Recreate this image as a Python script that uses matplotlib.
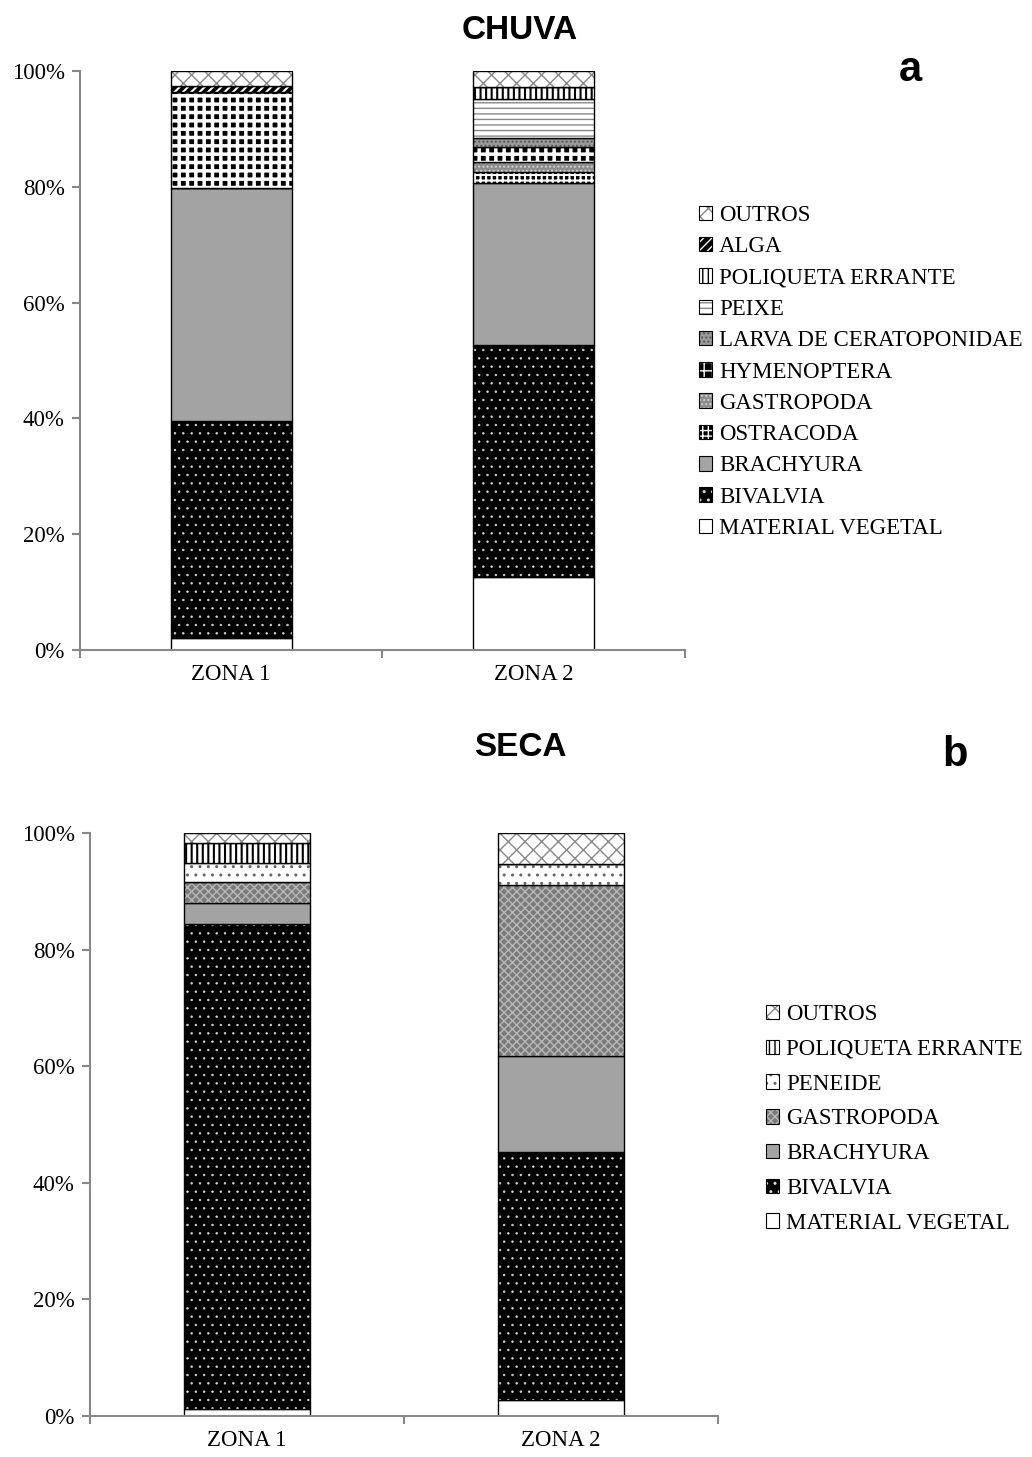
#!/usr/bin/env python3
"""Stacked percentage bars of diet items by zone, rainy (CHUVA) and dry (SECA) season."""

import matplotlib
matplotlib.use("Agg")
import numpy as np
import matplotlib.pyplot as plt
from matplotlib.patches import Patch
from matplotlib.legend_handler import HandlerTuple

plt.rcParams['hatch.linewidth'] = 1.0

zones = ['ZONA 1', 'ZONA 2']

# CHUVA (bottom to top of the stack)
chuva_items = ['MATERIAL VEGETAL', 'BIVALVIA', 'BRACHYURA', 'OSTRACODA', 'GASTROPODA',
               'HYMENOPTERA', 'LARVA DE CERATOPONIDAE', 'PEIXE', 'POLIQUETA ERRANTE',
               'ALGA', 'OUTROS']
chuva_zona1 = [2.0, 37.5, 40.3, 0.0, 0.0, 16.6, 0.0, 0.0, 0.0, 1.0, 2.6]
chuva_zona2 = [12.6, 40.1, 28.0, 1.9, 1.7, 2.6, 1.5, 6.8, 2.0, 0.0, 2.8]

# SECA (bottom to top of the stack)
seca_items = ['MATERIAL VEGETAL', 'BIVALVIA', 'BRACHYURA', 'GASTROPODA', 'PENEIDE',
              'POLIQUETA ERRANTE', 'OUTROS']
seca_zona1 = [1.2, 83.2, 3.6, 3.6, 3.3, 3.4, 1.7]
seca_zona2 = [2.7, 42.6, 16.4, 29.4, 3.6, 0.0, 5.3]

# fill style per item: (face colour, hatch, hatch colour, hatch width)
styles = {
    'MATERIAL VEGETAL': ('white', '', 'black', 1.0),
    'BIVALVIA': ('black', '..', '#d8d8d8', 0.5),
    'BRACHYURA': ('#a3a3a3', '', 'black', 1.0),
    'OSTRACODA': ('black', '+++', 'white', 1.5),
    'GASTROPODA': ('#8c8c8c', '....', '#d0d0d0', 1.0),
    'HYMENOPTERA': ('black', '++', 'white', 2.5),
    'LARVA DE CERATOPONIDAE': ('#9a9a9a', '....', '#5a5a5a', 1.0),
    'PEIXE': ('white', '---', '#888888', 1.0),
    'POLIQUETA ERRANTE': ('white', '|||', 'black', 1.5),
    'ALGA': ('black', '////', 'white', 1.5),
    'OUTROS': ('white', 'xx', '#888888', 1.0),
    'PENEIDE': ('white', '..', '#666666', 1.0),
}
seca_styles = dict(styles)
seca_styles['GASTROPODA'] = ('#7a7a7a', 'xxxx', '#b8b8b8', 1.0)

serif = 'Liberation Serif'
sans = 'Liberation Sans'


def stacked(ax, items, zona1, zona2, sty):
    x = np.arange(len(zones))
    data = np.array([zona1, zona2]).T
    bottom = np.zeros(len(zones))
    handles = []
    for item, vals in zip(items, data):
        face, hatch, hcol, hlw = sty[item]
        with plt.rc_context({'hatch.linewidth': hlw}):
            ax.bar(x, vals, 0.4, bottom=bottom, color=face, hatch=hatch,
                   edgecolor=hcol, linewidth=0)
            hp = Patch(facecolor=face, hatch=hatch, edgecolor=hcol, linewidth=0)
        ax.bar(x, vals, 0.4, bottom=bottom, fill=False, edgecolor='black',
               linewidth=1.0)
        bottom += vals
        handles.append((hp, Patch(fill=False, edgecolor='black', linewidth=0.8)))
    ax.set_xlim(-0.5, 1.5)
    ax.set_ylim(0, 100)
    ax.set_yticks(np.arange(0, 101, 20))
    ax.set_yticklabels([f'{v}%' for v in range(0, 101, 20)], fontfamily=serif, fontsize=16.5)
    ax.set_xticks(x)
    ax.set_xticklabels(zones, fontfamily=serif, fontsize=16.5)
    ax.set_xticks([-0.5, 0.5, 1.5], minor=True)
    ax.tick_params(axis='x', which='major', length=0, pad=10)
    ax.tick_params(axis='x', which='minor', length=6, color='#888888', width=1.5)
    ax.tick_params(axis='y', length=6, color='#888888', width=1.5, pad=5)
    for s in ['top', 'right']:
        ax.spines[s].set_visible(False)
    for s in ['left', 'bottom']:
        ax.spines[s].set_color('#888888')
        ax.spines[s].set_linewidth(1.5)
    return handles[::-1], items[::-1]


fig = plt.figure(figsize=(10.32, 14.57), dpi=100)

ax1 = fig.add_axes([0.0775, 0.5539, 0.586, 0.3974])
h, l = stacked(ax1, chuva_items, chuva_zona1, chuva_zona2, styles)
fig.legend(h, l, loc='center left', bbox_to_anchor=(678 / 1032, 1 - 372 / 1457),
           frameon=False, prop={'family': serif, 'size': 16.5}, handlelength=0.6,
           handleheight=0.6, handletextpad=0.3, labelspacing=0.45,
           handler_map={tuple: HandlerTuple(ndivide=1)})

ax2 = fig.add_axes([0.0872, 0.0281, 0.6085, 0.4001])
h, l = stacked(ax2, seca_items, seca_zona1, seca_zona2, seca_styles)
fig.legend(h, l, loc='center left', bbox_to_anchor=(745 / 1032, 1 - 1119 / 1457),
           frameon=False, prop={'family': serif, 'size': 16.5}, handlelength=0.6,
           handleheight=0.6, handletextpad=0.3, labelspacing=0.6,
           handler_map={tuple: HandlerTuple(ndivide=1)})

fig.text(0.504, 0.979, 'CHUVA', ha='center', va='center', fontfamily=sans,
         fontweight='bold', fontsize=24)
fig.text(0.882, 0.952, 'a', ha='center', va='center', fontfamily=sans,
         fontweight='bold', fontsize=30)
fig.text(0.504, 0.487, 'SECA', ha='center', va='center', fontfamily=sans,
         fontweight='bold', fontsize=24)
fig.text(0.925, 0.482, 'b', ha='center', va='center', fontfamily=sans,
         fontweight='bold', fontsize=30)

fig.savefig('out.png', dpi=100)
